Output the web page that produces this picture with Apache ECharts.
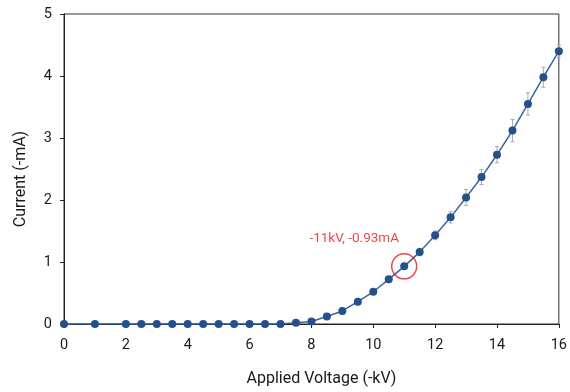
<!DOCTYPE html>
<html>
<head>
<meta charset="utf-8">
<script src="https://cdn.jsdelivr.net/npm/echarts@6/dist/echarts.min.js"></script>
<style>html,body{margin:0;padding:0;background:#fff}#c{width:570px;height:392px}</style>
</head>
<body>
<div id="c"></div>
<script>
var voltage = [0, 1, 2, 2.5, 3, 3.5, 4, 4.5, 5, 5.5, 6, 6.5, 7, 7.5, 8, 8.5, 9, 9.5, 10, 10.5, 11, 11.5, 12, 12.5, 13, 13.5, 14, 14.5, 15, 15.5, 16];
var current = [0, 0, 0, 0, 0, 0, 0, 0, 0, 0, 0, 0, 0, 0.02, 0.04, 0.12, 0.21, 0.36, 0.52, 0.72, 0.93, 1.16, 1.43, 1.72, 2.04, 2.37, 2.73, 3.12, 3.55, 3.98, 4.40];
var errors = [0, 0, 0, 0, 0, 0, 0, 0, 0, 0, 0, 0, 0, 0, 0, 0.01, 0.02, 0.03, 0.03, 0.04, 0.05, 0.06, 0.07, 0.09, 0.13, 0.12, 0.13, 0.18, 0.18, 0.16, 0.1];
var highlight = [11, 0.93];
var highlightLabel = '-11kV, -0.93mA';
var xTicks = [0, 2, 4, 6, 8, 10, 12, 14, 16];
var yTicks = [0, 1, 2, 3, 4, 5];

var mainData = voltage.map(function (v, i) { return [v, current[i]]; });
var errData = voltage.map(function (v, i) { return [v, current[i] - errors[i], current[i] + errors[i]]; });

var chart = echarts.init(document.getElementById('c'));
var font = 'Roboto, "Noto Sans", sans-serif';
chart.setOption({
  animation: false,
  grid: { left: 64, right: 9, top: 14, bottom: 67, show: true, borderColor: '#333', borderWidth: 1 },
  xAxis: {
    type: 'value', min: 0, max: 16, interval: 2,
    name: 'Applied Voltage (-kV)', nameLocation: 'middle', nameGap: 47,
    nameTextStyle: { fontFamily: font, fontSize: 16, color: '#1a1a1a', padding: [0, 0, 0, 20] },
    axisLine: { show: true, lineStyle: { color: '#222', width: 1 } },
    axisTick: { show: true, inside: false, length: 4, lineStyle: { color: '#222' } },
    axisLabel: { fontFamily: font, fontSize: 14.5, color: '#1a1a1a', margin: 14,
      formatter: function (v) { return xTicks.indexOf(v) >= 0 ? String(v) : ''; } },
    splitLine: { show: false }
  },
  yAxis: {
    type: 'value', min: 0, max: 5, interval: 1,
    name: 'Current (-mA)', nameLocation: 'middle', nameGap: 35,
    nameTextStyle: { fontFamily: font, fontSize: 16, color: '#1a1a1a', padding: [0, 20, 0, 0] },
    axisLine: { show: true, lineStyle: { color: '#222', width: 1 } },
    axisTick: { show: true, inside: false, length: 4, lineStyle: { color: '#222' } },
    axisLabel: { fontFamily: font, fontSize: 14.5, color: '#1a1a1a', margin: 12,
      formatter: function (v) { return yTicks.indexOf(v) >= 0 ? String(v) : ''; } },
    splitLine: { show: false }
  },
  series: [
    {
      type: 'custom',
      data: errData,
      z: 1,
      renderItem: function (params, api) {
        var x = api.value(0);
        var lo = api.coord([x, api.value(1)]);
        var hi = api.coord([x, api.value(2)]);
        if (Math.abs(hi[1] - lo[1]) < 2) return null;
        var w = 2;
        var st = { stroke: '#aaa', lineWidth: 1 };
        return { type: 'group', children: [
          { type: 'line', shape: { x1: lo[0], y1: lo[1], x2: hi[0], y2: hi[1] }, style: st },
          { type: 'line', shape: { x1: lo[0] - w, y1: lo[1], x2: lo[0] + w, y2: lo[1] }, style: st },
          { type: 'line', shape: { x1: hi[0] - w, y1: hi[1], x2: hi[0] + w, y2: hi[1] }, style: st }
        ]};
      }
    },
    {
      type: 'line',
      data: mainData,
      z: 3,
      symbol: 'circle', symbolSize: 8,
      lineStyle: { color: '#3a64a0', width: 1.5 },
      itemStyle: { color: '#24508c' }
    },
    {
      type: 'scatter',
      data: [highlight],
      z: 4,
      symbol: 'circle', symbolSize: 25,
      itemStyle: { color: 'rgba(0,0,0,0)', borderColor: '#e8141e', borderWidth: 1.5 },
      label: {
        show: true, formatter: function () { return highlightLabel; },
        position: 'top', offset: [-50, -2],
        fontFamily: font, fontSize: 13.5, color: '#e8141e'
      }
    }
  ]
});
</script>
</body>
</html>
